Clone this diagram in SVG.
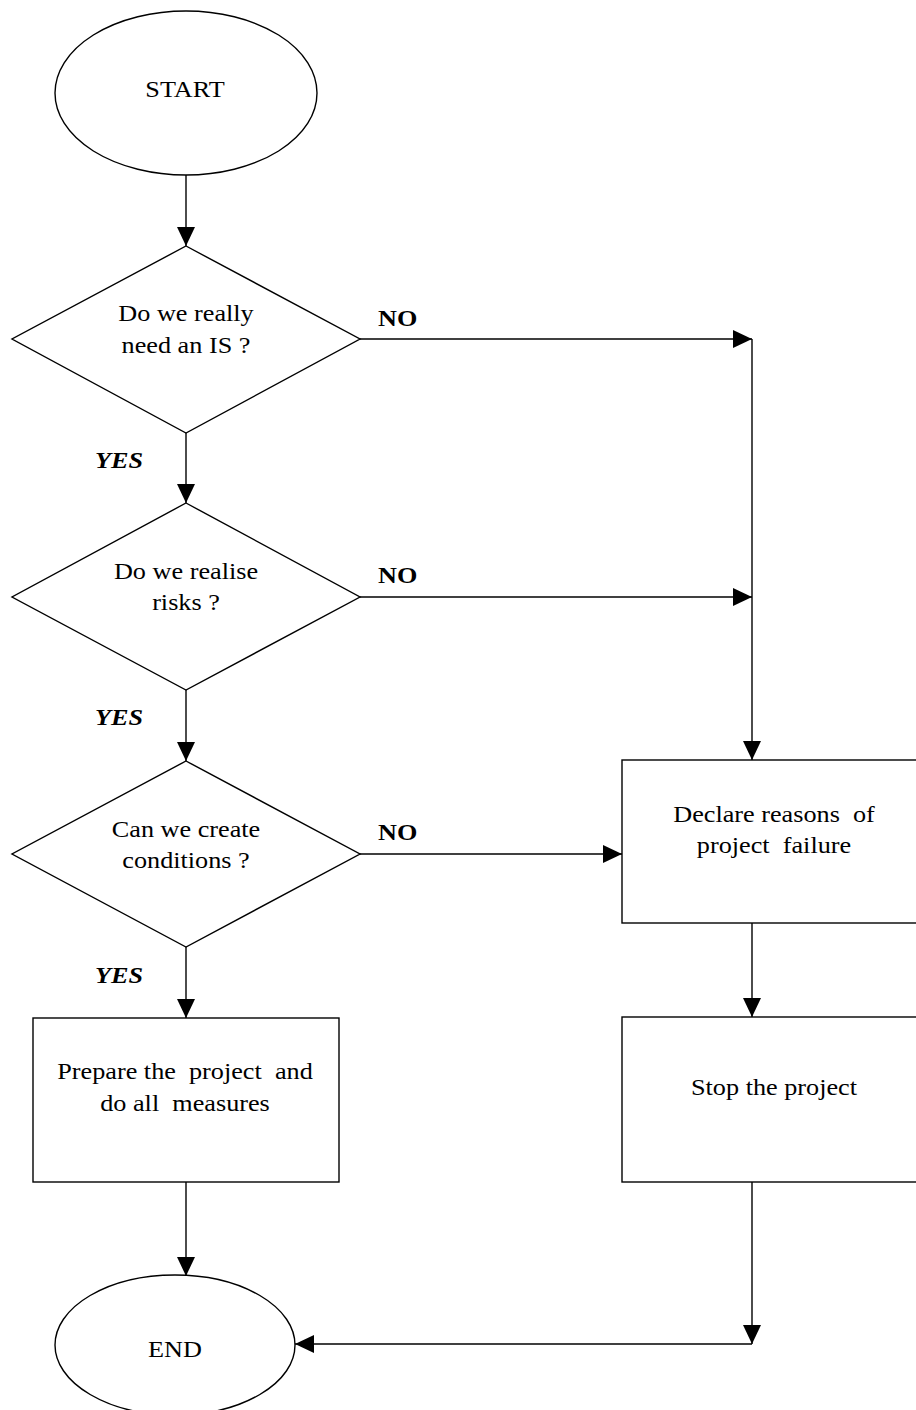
<svg xmlns="http://www.w3.org/2000/svg" width="916" height="1410" viewBox="0 0 916 1410">
<style>
.shape{fill:#fff;stroke:#000;stroke-width:1.4}
.conn{fill:none;stroke:#000;stroke-width:1.4}
text{font-family:"Liberation Serif","Times New Roman",serif;font-size:23px;fill:#000;text-anchor:middle;white-space:pre}
.no{font-weight:bold;text-anchor:start}
.yes{font-weight:bold;font-style:italic;text-anchor:start}
</style>
<defs>
<marker id="arr" markerUnits="userSpaceOnUse" markerWidth="19" markerHeight="18" refX="19" refY="9" orient="auto">
<path d="M0,0 L19,9 L0,18 z" fill="#000"/>
</marker>
</defs>
<rect width="916" height="1410" fill="#fff"/>
<g id="connectors">
<line class="conn" x1="186" y1="175" x2="186" y2="246" marker-end="url(#arr)"/>
<line class="conn" x1="360" y1="339" x2="752" y2="339" marker-end="url(#arr)"/>
<line class="conn" x1="186" y1="433" x2="186" y2="503" marker-end="url(#arr)"/>
<line class="conn" x1="360" y1="597" x2="752" y2="597" marker-end="url(#arr)"/>
<line class="conn" x1="752" y1="339" x2="752" y2="760" marker-end="url(#arr)"/>
<line class="conn" x1="186" y1="690" x2="186" y2="761" marker-end="url(#arr)"/>
<line class="conn" x1="360" y1="854" x2="622" y2="854" marker-end="url(#arr)"/>
<line class="conn" x1="186" y1="947" x2="186" y2="1018" marker-end="url(#arr)"/>
<line class="conn" x1="752" y1="923" x2="752" y2="1017" marker-end="url(#arr)"/>
<line class="conn" x1="186" y1="1182" x2="186" y2="1276" marker-end="url(#arr)"/>
<line class="conn" x1="752" y1="1182" x2="752" y2="1344" marker-end="url(#arr)"/>
<line class="conn" x1="752" y1="1344" x2="295" y2="1344" marker-end="url(#arr)"/>
<text class="no" transform="matrix(1.14 0 0 1 378 326)">NO</text>
<text class="no" transform="matrix(1.14 0 0 1 378 583)">NO</text>
<text class="no" transform="matrix(1.14 0 0 1 378 840)">NO</text>
<text class="yes" transform="matrix(1.14 0 0 1 95 468)">YES</text>
<text class="yes" transform="matrix(1.14 0 0 1 95 725)">YES</text>
<text class="yes" transform="matrix(1.14 0 0 1 95 983)">YES</text>
</g>
<g id="start">
<ellipse class="shape" cx="186" cy="93" rx="131" ry="82"/>
<text transform="matrix(1.14 0 0 1 185 97)">START</text>
</g>
<g id="decision1">
<polygon class="shape" points="186,246 360,339 186,433 12,339"/>
<text transform="matrix(1.14 0 0 1 186 321)">Do we really</text>
<text transform="matrix(1.14 0 0 1 186 353)">need an IS ?</text>
</g>
<g id="decision2">
<polygon class="shape" points="186,503 360,597 186,690 12,597"/>
<text transform="matrix(1.14 0 0 1 186 579)">Do we realise</text>
<text transform="matrix(1.14 0 0 1 186 610)">risks ?</text>
</g>
<g id="decision3">
<polygon class="shape" points="186,761 360,854 186,947 12,854"/>
<text transform="matrix(1.14 0 0 1 186 837)">Can we create</text>
<text transform="matrix(1.14 0 0 1 186 868)">conditions ?</text>
</g>
<g id="declare">
<rect class="shape" x="622" y="760" width="304" height="163"/>
<text transform="matrix(1.14 0 0 1 774 822)">Declare reasons  of</text>
<text transform="matrix(1.14 0 0 1 774 853)">project  failure</text>
</g>
<g id="prepare">
<rect class="shape" x="33" y="1018" width="306" height="164"/>
<text transform="matrix(1.14 0 0 1 185 1079)">Prepare the  project  and</text>
<text transform="matrix(1.14 0 0 1 185 1111)">do all  measures</text>
</g>
<g id="stop">
<rect class="shape" x="622" y="1017" width="304" height="165"/>
<text transform="matrix(1.14 0 0 1 774 1095)">Stop the project</text>
</g>
<g id="end">
<ellipse class="shape" cx="175" cy="1345" rx="120" ry="70"/>
<text transform="matrix(1.14 0 0 1 175 1357)">END</text>
</g>
</svg>
